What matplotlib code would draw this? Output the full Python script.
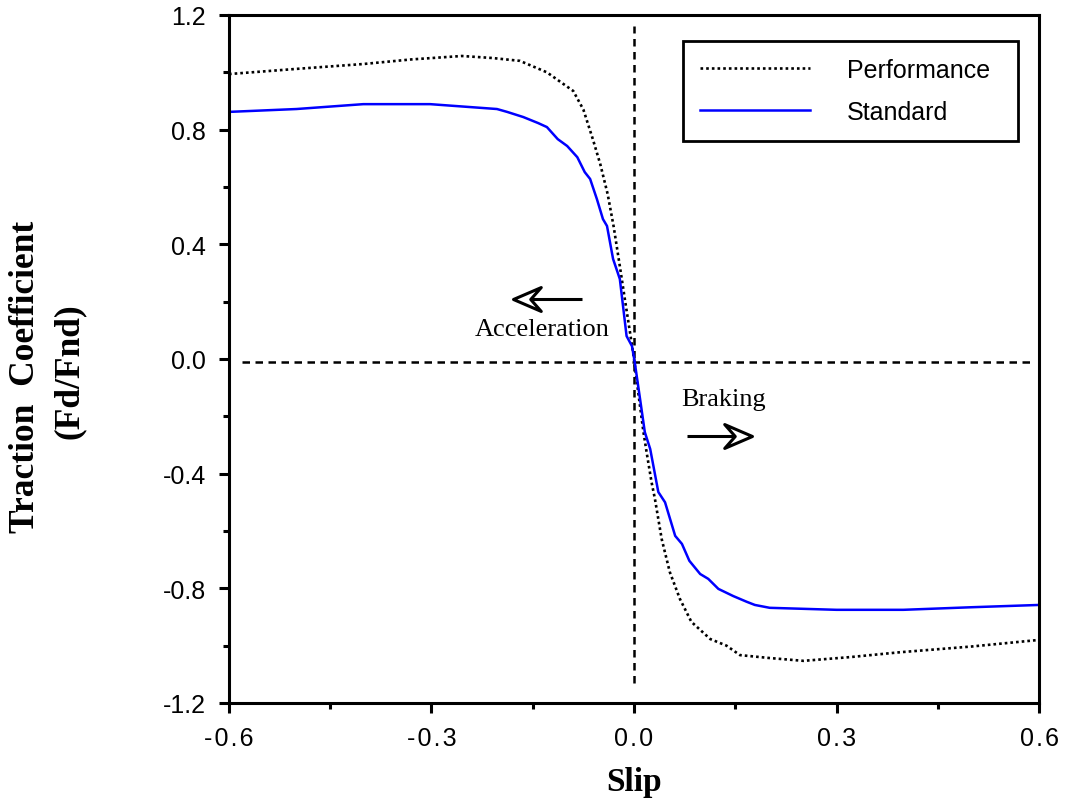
import matplotlib
matplotlib.use("Agg")
import matplotlib.pyplot as plt
from matplotlib.path import Path
from matplotlib.ticker import FixedLocator, FixedFormatter, MultipleLocator

# ---- data ----
perf_x = [-0.600, -0.500, -0.401, -0.330, -0.255, -0.210, -0.169, -0.129, -0.090, -0.075,
          -0.061, -0.050, -0.039, -0.030, -0.021, -0.013, -0.006, 0.000, 0.007, 0.014,
          0.019, 0.026, 0.031, 0.041, 0.053, 0.068, 0.085, 0.113, 0.137, 0.157,
          0.200, 0.251, 0.320, 0.394, 0.500, 0.600]
perf_y = [0.994, 1.012, 1.029, 1.045, 1.057, 1.050, 1.040, 1.000, 0.935, 0.870,
          0.767, 0.680, 0.575, 0.460, 0.324, 0.200, 0.094, 0.000, -0.130, -0.255,
          -0.330, -0.430, -0.488, -0.628, -0.743, -0.837, -0.917, -0.977, -1.000, -1.033,
          -1.043, -1.053, -1.040, -1.023, -1.003, -0.980]

std_x = [-0.600, -0.500, -0.401, -0.302, -0.203, -0.188, -0.164, -0.142, -0.129, -0.113,
         -0.099, -0.084, -0.073, -0.065, -0.055, -0.046, -0.040, -0.031, -0.021, -0.011,
         -0.003, 0.001, 0.009, 0.016, 0.024, 0.036, 0.046, 0.061, 0.071, 0.082,
         0.098, 0.110, 0.125, 0.147, 0.167, 0.179, 0.201, 0.300, 0.399, 0.500, 0.600]
std_y = [0.862, 0.872, 0.889, 0.889, 0.872, 0.862, 0.844, 0.823, 0.809, 0.767,
         0.743, 0.704, 0.652, 0.628, 0.558, 0.488, 0.464, 0.349, 0.279, 0.080,
         0.045, -0.010, -0.140, -0.255, -0.314, -0.464, -0.500, -0.617, -0.645, -0.704,
         -0.750, -0.767, -0.802, -0.827, -0.847, -0.858, -0.868, -0.875, -0.875, -0.866, -0.858]

series_labels = ["Performance", "Standard"]
xtick_values = [-0.6, -0.3, 0.0, 0.3, 0.6]
xtick_labels = ["-0.6", "-0.3", "0.0", "0.3", "0.6"]
ytick_values = [-1.2, -0.8, -0.4, 0.0, 0.4, 0.8, 1.2]
ytick_labels = ["-1.2", "-0.8", "-0.4", "0.0", "0.4", "0.8", "1.2"]

# annotation arrows: (tail x, tip x, y)
accel_arrow = (-0.077, -0.179, 0.209)
brake_arrow = (0.079, 0.175, -0.269)

sans = ["Liberation Sans", "DejaVu Sans"]
serif = ["Liberation Serif", "DejaVu Serif"]

fig = plt.figure(figsize=(10.66, 8.04), dpi=100)
ax = fig.add_axes([0.2148, 0.1244, 0.7599, 0.8557])

# reference lines
ax.plot([-0.58, 0.59], [-0.01, -0.01], color="black", lw=1.8, ls=(0, (3, 2.2)))
ax.plot([0.0, 0.0], [-1.13, 1.16], color="black", lw=1.8, ls=(0, (3, 2.2)))

# curves
ax.plot(perf_x, perf_y, color="black", lw=1.9, ls=(0, (1, 1.15)), label=series_labels[0])
ax.plot(std_x, std_y, color="#0000ff", lw=1.8, label=series_labels[1])

ax.set_xlim(-0.6, 0.6)
ax.set_ylim(-1.2, 1.2)

ax.xaxis.set_major_locator(FixedLocator(xtick_values))
ax.xaxis.set_major_formatter(FixedFormatter(["\u200a".join(s) for s in xtick_labels]))
ax.xaxis.set_minor_locator(MultipleLocator(0.15))
ax.yaxis.set_major_locator(FixedLocator(ytick_values))
ax.yaxis.set_major_formatter(FixedFormatter(ytick_labels))
ax.yaxis.set_minor_locator(MultipleLocator(0.2))

for s in ax.spines.values():
    s.set_linewidth(2.2)
ax.tick_params(which="major", direction="out", length=7.5, width=2.2, pad=9, labelsize=18)
ax.tick_params(which="minor", direction="out", length=4.5, width=2.2)
for lab in ax.get_xticklabels() + ax.get_yticklabels():
    lab.set_family(sans)

# notched open arrow heads
def head_path(direction):
    d = direction
    verts = [(0, 0), (d * 1.0, 0.43), (d * 0.62, 0), (d * 1.0, -0.43), (0, 0)]
    codes = [Path.MOVETO, Path.LINETO, Path.LINETO, Path.LINETO, Path.CLOSEPOLY]
    return Path(verts, codes)

head_ms = 40  # points; head length = 0.5 * ms
px_per_unit = ax.get_position().width * fig.get_figwidth() * fig.dpi / 1.2
for tail, tip, yy in (accel_arrow, brake_arrow):
    direction = 1 if tail > tip else -1
    notch = tip + direction * 0.62 * 0.5 * head_ms * fig.dpi / 72 / px_per_unit
    ax.plot([tail, notch], [yy, yy], color="black", lw=2.2, solid_capstyle="butt", zorder=4)
    ax.plot([tip], [yy], marker=head_path(direction), markersize=head_ms,
            markerfacecolor="white", markeredgecolor="black", markeredgewidth=2.2,
            linestyle="none", zorder=5)

ax.text(-0.136, 0.105, "Acceleration", family=serif, fontsize=19, ha="center", va="center")
ax.text(0.132, -0.14, "Braking", family=serif, fontsize=19, ha="center", va="center")

# axis labels
fig.text(0.595, 0.027, "Slip", family=serif, fontweight="bold", fontsize=24,
         ha="center", va="center")
fig.text(0.024, 0.531, "Traction  Coefficient", family=serif, fontweight="bold",
         fontsize=25.5, rotation=90, ha="center", va="center")
fig.text(0.065, 0.538, "(Fd/Fnd)", family=serif, fontweight="bold",
         fontsize=25.5, rotation=90, ha="center", va="center")

leg = ax.legend(loc="upper left", bbox_to_anchor=(0.560, 0.818, 0.414, 0.144), mode="expand",
                prop={"family": sans, "size": 18},
                handlelength=4.4, handletextpad=1.5, borderpad=0.68, labelspacing=0.71,
                fancybox=False, framealpha=1, edgecolor="black", borderaxespad=0)
leg.get_frame().set_linewidth(2)

fig.savefig("out.png", dpi=100)
